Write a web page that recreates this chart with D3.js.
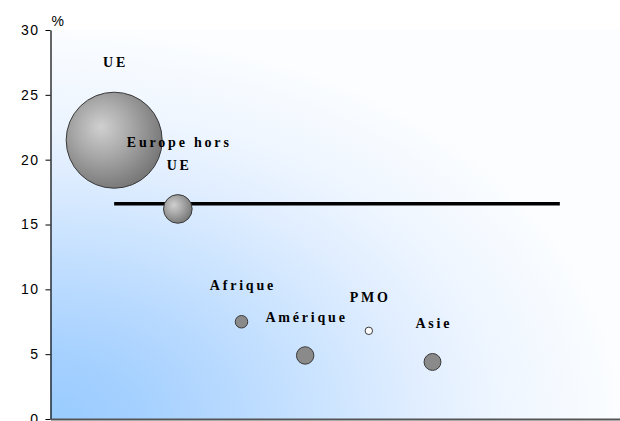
<!DOCTYPE html>
<html>
<head>
<meta charset="utf-8">
<script src="https://cdn.jsdelivr.net/npm/d3@7"></script>
<style>
  html, body { margin: 0; padding: 0; background: #ffffff; }
  svg { display: block; }
</style>
</head>
<body>
<div id="chart"></div>
<script>
// ---- data ----
const categories = ["UE", "Europe hors UE", "Afrique", "Amérique", "PMO", "Asie"];
const labelLines = [["UE"], ["Europe hors", "UE"], ["Afrique"], ["Amérique"], ["PMO"], ["Asie"]];
const xValues = [1, 2, 3, 4, 5, 6];
const yValues = [21.5, 16.2, 7.5, 4.9, 6.8, 4.4];
const sizeValues = [100, 8.9, 1.7, 3.3, 0.6, 3.1];
const refLineX = [1, 8];
const refLineY = [16.6, 16.6];
const yTicks = [0, 5, 10, 15, 20, 25, 30];
const yUnit = "%";

(function () {
// ---- layout ----
const W = 620, H = 421;
const mLeft = 50.5, mRight = 623.5, mTop = 30, mBottom = 419;

const svg = d3.select("#chart").append("svg")
  .attr("width", W).attr("height", H);

const x = d3.scaleLinear().domain([0, 9]).range([mLeft, mRight]);
const y = d3.scaleLinear().domain([0, 30]).range([mBottom, mTop]);
const r = d3.scaleSqrt().domain([0, 100]).range([0, 48]);

const defs = svg.append("defs");
const bg = defs.append("radialGradient").attr("id", "bg")
  .attr("cx", 0).attr("cy", 1).attr("r", 1).attr("fx", 0).attr("fy", 1);
[["0", "#99ccff"], ["0.15", "#a4d0ff"], ["0.33", "#b9daff"], ["0.5", "#cee5ff"],
 ["0.65", "#e1eeff"], ["0.8", "#eff6ff"], ["1", "#fbfdff"]].forEach(s =>
  bg.append("stop").attr("offset", s[0]).attr("stop-color", s[1]));

const bub = defs.append("radialGradient").attr("id", "bub")
  .attr("cx", 0.4).attr("cy", 0.4).attr("r", 0.62).attr("fx", 0.36).attr("fy", 0.36);
bub.append("stop").attr("offset", "0").attr("stop-color", "#d0d0d0");
bub.append("stop").attr("offset", "0.45").attr("stop-color", "#aaaaaa");
bub.append("stop").attr("offset", "1").attr("stop-color", "#787878");

// plot background
svg.append("rect")
  .attr("x", mLeft).attr("y", mTop)
  .attr("width", W - mLeft).attr("height", mBottom - mTop)
  .attr("fill", "url(#bg)");

// y axis
const yAxis = svg.append("g")
  .attr("transform", `translate(${mLeft},0)`)
  .call(d3.axisLeft(y).tickValues(yTicks).tickSize(5).tickSizeOuter(0).tickPadding(6));
yAxis.select(".domain").attr("stroke", "#000").attr("stroke-width", 1.2);
yAxis.selectAll(".tick line").attr("stroke", "#000");
yAxis.selectAll(".tick text")
  .attr("font-family", "'Liberation Sans', Arial, sans-serif")
  .attr("font-size", 14)
  .attr("letter-spacing", "1.5px")
  .attr("fill", "#000");

// x axis (no ticks)
const xAxis = svg.append("g")
  .attr("transform", `translate(0,${mBottom})`)
  .call(d3.axisBottom(x).tickValues([]).tickSizeOuter(0));
xAxis.select(".domain").attr("stroke", "#555").attr("stroke-width", 2);

// unit label
svg.append("text")
  .attr("x", mLeft + 1).attr("y", mTop - 4)
  .attr("font-family", "'Liberation Sans', Arial, sans-serif")
  .attr("font-size", 14)
  .attr("fill", "#000")
  .text(yUnit);

// reference line
const lineData = refLineX.map((v, i) => [v, refLineY[i]]);
svg.append("path")
  .attr("d", d3.line().x(d => x(d[0])).y(d => y(d[1]))(lineData))
  .attr("stroke", "#000").attr("stroke-width", 3.5).attr("fill", "none");

// bubbles
const data = categories.map((c, i) => ({
  name: c, lines: labelLines[i], x: xValues[i], y: yValues[i], s: sizeValues[i]
}));

svg.append("g").selectAll("circle").data(data).join("circle")
  .attr("cx", d => x(d.x))
  .attr("cy", d => y(d.y))
  .attr("r", d => r(d.s))
  .attr("fill", d => d.name === "PMO" ? "#ffffff" : (r(d.s) > 10 ? "url(#bub)" : "#8a8a8a"))
  .attr("stroke", "#3a3a3a")
  .attr("stroke-width", 1);

// labels
const ls = 2.8;
const lab = svg.append("g").selectAll("text").data(data).join("text")
  .attr("text-anchor", "middle")
  .attr("font-family", "'Liberation Serif', 'Times New Roman', serif")
  .attr("font-weight", 700)
  .attr("font-size", 14)
  .attr("letter-spacing", ls + "px")
  .attr("fill", "#000");
lab.each(function(d) {
  const t = d3.select(this);
  const cx = x(d.x) + ls / 2;
  const baseY = y(d.y) - r(d.s) - 25;
  const n = d.lines.length;
  d.lines.forEach((line, k) => {
    t.append("tspan")
      .attr("x", cx)
      .attr("y", baseY - (n - 1 - k) * 22.5)
      .text(line);
  });
});
})();
</script>
</body>
</html>
